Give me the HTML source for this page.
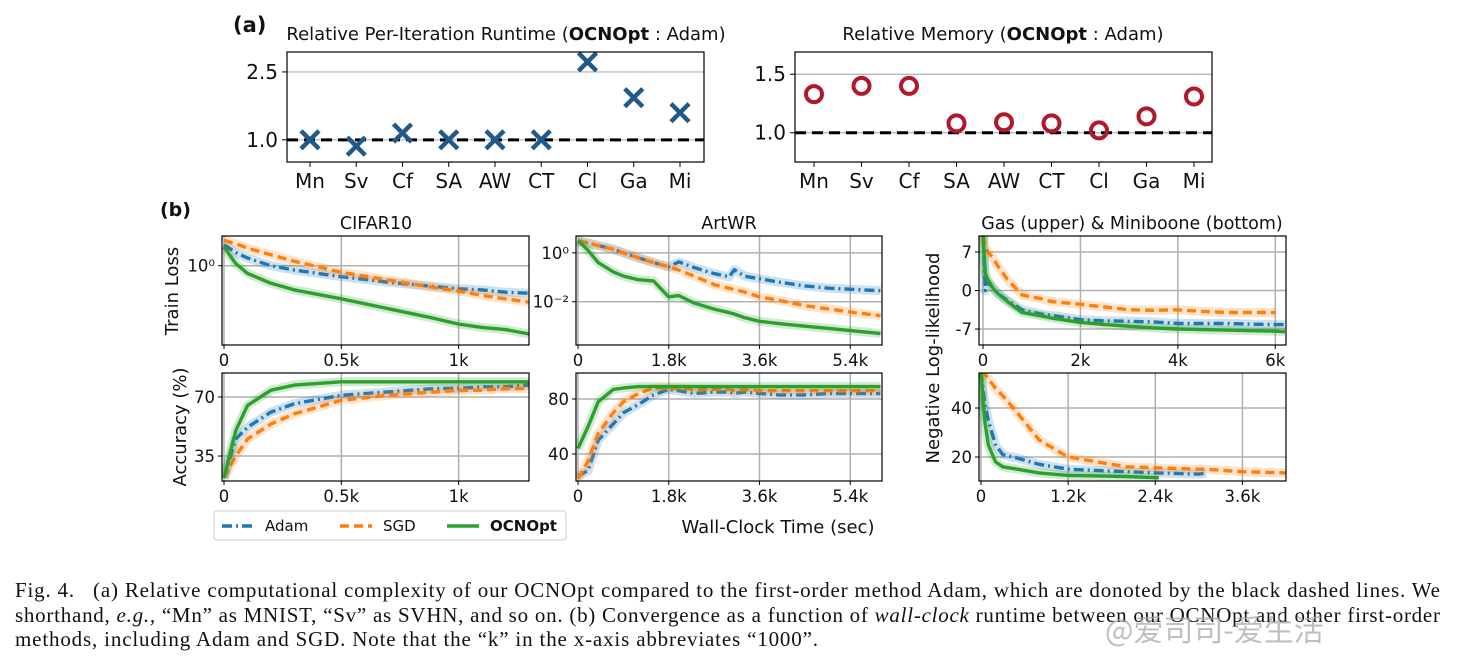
<!DOCTYPE html>
<html><head><meta charset="utf-8">
<style>
html,body{margin:0;padding:0;background:#fff;}
svg{display:block;}
text{font-family:"DejaVu Sans","Liberation Sans",sans-serif;fill:#111;}
.cap{font-family:"Liberation Serif","Noto Serif CJK SC",serif;font-size:21px;fill:#111;}
</style></head>
<body>
<svg id="fig" width="1457" height="663" viewBox="0 0 1457 663" xmlns="http://www.w3.org/2000/svg">
<g id="layer"></g>
<text class="cap" x="15" y="597" textLength="1425" lengthAdjust="spacing">Fig. 4. &#160;&#160;(a) Relative computational complexity of our OCNOpt compared to the first-order method Adam, which are donoted by the black dashed lines. We</text>
<text class="cap" x="15" y="622" textLength="1425" lengthAdjust="spacing">shorthand, <tspan font-style="italic">e.g.,</tspan> “Mn” as MNIST, “Sv” as SVHN, and so on. (b) Convergence as a function of <tspan font-style="italic">wall-clock</tspan> runtime between our OCNOpt and other first-order</text>
<text class="cap" x="15" y="646" textLength="803" lengthAdjust="spacing">methods, including Adam and SGD. Note that the “k” in the x-axis abbreviates “1000”.</text>
<text x="1105" y="641" style="font-family:'Noto Sans CJK SC',sans-serif;font-size:30px;fill:#aaa;opacity:0.75">@爱司司-爱生活</text>
</svg>
<script>
// ---------- Part (a) data ----------
const catLabels = ["Mn","Sv","Cf","SA","AW","CT","Cl","Ga","Mi"];
const runtimeVals = [1.0,0.86,1.15,1.0,1.0,1.0,2.72,1.93,1.6];
const memoryVals = [1.33,1.40,1.40,1.08,1.09,1.08,1.02,1.14,1.31];
const runtimeTicks = [1.0,2.5];
const memoryTicks = [1.0,1.5];

// ---------- Part (b) data ----------
const cifX = [0,0.05,0.1,0.2,0.3,0.5,0.7,0.9,1.0,1.1,1.2,1.3];
const cifAdamLoss = [0.19,0.12,0.07,0.0,-0.04,-0.1,-0.15,-0.19,-0.21,-0.22,-0.24,-0.25];
const cifSgdLoss = [0.23,0.2,0.16,0.1,0.04,-0.06,-0.13,-0.2,-0.23,-0.27,-0.3,-0.33];
const cifOcnLoss = [0.17,0.02,-0.07,-0.16,-0.22,-0.3,-0.39,-0.48,-0.53,-0.56,-0.58,-0.62];
const cifAdamAcc = [22,45,52,61,66,71,73,75,75,76,76,77];
const cifSgdAcc = [22,35,45,54,60,68,71,73,74,74,75,75];
const cifOcnAcc = [22,50,65,74,77,79,79,79,79,79,79,79];
const cifLossTicks = ["10⁰"];

const artX = [0,0.2,0.4,0.7,0.9,1.2,1.5,1.8,2.0,2.3,2.7,3.0,3.1,3.3,3.6,4.0,4.5,5.0,5.5,6.0];
const artAdamLoss = [0.5,0.4,0.3,0.15,0.0,-0.2,-0.4,-0.57,-0.37,-0.6,-0.85,-0.98,-0.69,-0.95,-1.06,-1.2,-1.35,-1.45,-1.5,-1.55];
const artSgdLoss = [0.5,0.4,0.3,0.15,0.0,-0.2,-0.4,-0.57,-0.7,-0.95,-1.3,-1.45,-1.5,-1.6,-1.8,-1.95,-2.16,-2.3,-2.45,-2.57];
const artOcnLoss = [0.5,0.1,-0.4,-0.78,-0.95,-1.1,-1.15,-1.8,-1.75,-2.05,-2.3,-2.45,-2.5,-2.65,-2.8,-2.9,-3.0,-3.1,-3.2,-3.3];
const artAdamAcc = [24,28,50,62,70,76,83,87,86,84,85,85,84,85,84,83,83,84,84,84];
const artSgdAcc = [22,35,55,70,78,84,88,88,88,87,87,87,86,87,86,86,86,86,86,86];
const artOcnAcc = [44,60,78,87,88,89,89,89,89,89,89,89,89,89,89,89,89,89,89,89];

const gasX = [0,0.05,0.1,0.2,0.3,0.5,0.8,1.2,1.4,2.0,2.5,3.0,3.5,4.0,4.5,5.0,5.5,6.0,6.2];
const gasAdamNll = [9.9,0,1.5,0.5,-0.5,-1.8,-3.5,-4.3,-4.5,-5.3,-5.5,-5.6,-5.7,-6.0,-6.0,-6.0,-6.1,-6.2,-6.2];
const gasSgdNll = [9.9,8,7,6,4.5,2,-0.8,-1.5,-2.0,-2.5,-3.0,-3.5,-3.6,-3.5,-3.8,-4.0,-4.0,-4.0,null];
const gasOcnNll = [9.9,3,2,0.5,-0.5,-2,-4,-4.6,-5,-5.8,-6.2,-6.5,-6.8,-7.0,-7.1,-7.2,-7.3,-7.4,-7.5];

const mbX = [0,0.05,0.1,0.2,0.3,0.5,0.8,1.2,1.6,2.0,2.45,3.0,3.1,3.6,4.2];
const mbAdamNll = [55,42,35,25,21,19.5,17,15,14.5,14,13.5,13,13.5,null,null];
const mbSgdNll = [55,54,52,48,45,38,27,20,18,16,15.5,15,15,14,13.5];
const mbOcnNll = [55,35,25,18,16,15,13.5,12.5,12.3,12,11.5,null,null,null,null];

const NS="http://www.w3.org/2000/svg";
const layer=document.getElementById('layer');
function mk(tag,attrs,parent){const e=document.createElementNS(NS,tag);for(const k in attrs)e.setAttribute(k,attrs[k]);(parent||layer).appendChild(e);return e;}
function txt(s,attrs,parent){const e=mk('text',attrs,parent);e.textContent=s;return e;}

const BLUE="#1f77b4",ORANGE="#ff7f0e",GREEN="#2ca02c";

// ---------- part (a) ----------
function catPanel(name,box,ymin,ymax,ticks,tickFmt,vals,kind,title,titleX){
  const g=mk('g',{});
  
  
  const sy=v=>box.y1-(v-ymin)/(ymax-ymin)*(box.y1-box.y0);
  const n=catLabels.length;
  const sx=i=>box.cx0+i*(box.cx1-box.cx0)/(n-1);
  ticks.forEach(t=>{
    const l=mk('line',{x1:box.x0,x2:box.x1,y1:sy(t),y2:sy(t),stroke:'#b0b0b0','stroke-width':1.2},g);
    
    
    mk('line',{x1:box.x0-5,x2:box.x0,y1:sy(t),y2:sy(t),stroke:'#000','stroke-width':1},g);
    const tl=txt(tickFmt(t),{x:box.x0-9,y:sy(t)+7,'text-anchor':'end','font-size':20},g);
    
    
  });
  const ref=mk('line',{x1:box.x0,x2:box.x1,y1:sy(1),y2:sy(1),stroke:'#000','stroke-width':3,'stroke-dasharray':'11,6'},g);
  
  
  catLabels.forEach((c,i)=>{
    mk('line',{x1:sx(i),x2:sx(i),y1:box.y1,y2:box.y1+5,stroke:'#000','stroke-width':1},g);
    const tl=txt(c,{x:sx(i),y:box.y1+26,'text-anchor':'middle','font-size':20},g);
    
    
    const x=sx(i),y=sy(vals[i]);
    if(kind==='x'){
      const p=mk('path',{d:`M${x-9},${y-9}L${x+9},${y+9}M${x-9},${y+9}L${x+9},${y-9}`,stroke:'#1f5a8a','stroke-width':4.5},g);
      
      
    }else{
      const p=mk('circle',{cx:x,cy:y,r:8,fill:'none',stroke:'#b2182b','stroke-width':4},g);
      
      
    }
  });
  mk('rect',{x:box.x0,y:box.y0,width:box.x1-box.x0,height:box.y1-box.y0,fill:'none',stroke:'#000','stroke-width':1.2},g);
  const t=mk('text',{x:titleX,y:40,'text-anchor':'middle','font-size':18},g);
  t.innerHTML=title;
  
  
}
catPanel('runtime-chart',{x0:287,x1:704,y0:52,y1:162,cx0:310,cx1:680},0.51,2.94,runtimeTicks,v=>v.toFixed(1),runtimeVals,'x','Relative Per-Iteration Runtime (<tspan font-weight="bold">OCNOpt</tspan> : Adam)',506);
catPanel('memory-chart',{x0:795,x1:1212,y0:52,y1:162,cx0:814,cx1:1194},0.75,1.69,memoryTicks,v=>v.toFixed(1),memoryVals,'o','Relative Memory (<tspan font-weight="bold">OCNOpt</tspan> : Adam)',1003);
const la=txt('(a)',{x:233,y:32,'font-size':21,'font-weight':'bold'});



// ---------- part (b) ----------
function linePanel(name,box,xmax,ymin,ymax,xticks,xtickLabels,yticks,ytickLabels,series,xs){
  const g=mk('g',{});
  
  
  const sx=v=>box.xz+v*(box.x1-box.xz)/xmax;
  const sy=v=>box.y1-(v-ymin)/(ymax-ymin)*(box.y1-box.y0);
  const clip='clip-'+name;
  const cp=mk('clipPath',{id:clip},g);
  mk('rect',{x:box.x0,y:box.y0,width:box.x1-box.x0,height:box.y1-box.y0},cp);
  xticks.forEach((t,i)=>{
    mk('line',{x1:sx(t),x2:sx(t),y1:box.y0,y2:box.y1,stroke:'#b0b0b0','stroke-width':1.5},g);
    mk('line',{x1:sx(t),x2:sx(t),y1:box.y1,y2:box.y1+4,stroke:'#000','stroke-width':1},g);
    const tl=txt(xtickLabels[i],{x:sx(t),y:box.y1+21,'text-anchor':'middle','font-size':16.5},g);
    
    
  });
  yticks.forEach((t,i)=>{
    mk('line',{x1:box.x0,x2:box.x1,y1:sy(t),y2:sy(t),stroke:'#b0b0b0','stroke-width':1.5},g);
    mk('line',{x1:box.x0-4,x2:box.x0,y1:sy(t),y2:sy(t),stroke:'#000','stroke-width':1},g);
    const tl=txt(ytickLabels[i],{x:box.x0-7,y:sy(t)+6,'text-anchor':'end','font-size':16.5},g);
    
    
  });
  const sg=mk('g',{'clip-path':`url(#${clip})`},g);
  series.forEach(s=>{
    let d='';let started=false;
    s.vals.forEach((v,i)=>{if(v===null)return;d+=(started?'L':'M')+sx(xs[i]).toFixed(1)+','+sy(v).toFixed(1);started=true;});
    mk('path',{d:d,fill:'none',stroke:s.color,'stroke-width':9,opacity:0.22,'stroke-linejoin':'round'},sg);
    const p=mk('path',{d:d,fill:'none',stroke:s.color,'stroke-width':3.4,'stroke-dasharray':s.dash,'stroke-linejoin':'round'},sg);
    
    
  });
  mk('rect',{x:box.x0,y:box.y0,width:box.x1-box.x0,height:box.y1-box.y0,fill:'none',stroke:'#000','stroke-width':1.2},g);
  return {sx,sy};
}
const AD='10,4,2,4',SD='9,5',OD='none';
const topB={y0:236,y1:345},botB={y0:373,y1:481};
function S(name,vals,color,dash){return {name,vals,color,dash};}

linePanel('cifar10-loss-chart',{x0:222,x1:529,xz:224,...topB},1.3,-0.72,0.27,[0,0.5,1],['0','0.5k','1k'],[0],cifLossTicks,
 [S('adam-line',cifAdamLoss,BLUE,AD),S('sgd-line',cifSgdLoss,ORANGE,SD),S('ocnopt-line',cifOcnLoss,GREEN,OD)],cifX);
linePanel('cifar10-accuracy-chart',{x0:222,x1:529,xz:224,...botB},1.3,20.2,84.2,[0,0.5,1],['0','0.5k','1k'],[35,70],['35','70'],
 [S('adam-line',cifAdamAcc,BLUE,AD),S('sgd-line',cifSgdAcc,ORANGE,SD),S('ocnopt-line',cifOcnAcc,GREEN,OD)],cifX);
linePanel('artwr-loss-chart',{x0:576,x1:882,xz:578,...topB},6.03,-3.77,0.69,[0,1.8,3.6,5.4],['0','1.8k','3.6k','5.4k'],[0,-2],['10⁰','10⁻²'],
 [S('adam-line',artAdamLoss,BLUE,AD),S('sgd-line',artSgdLoss,ORANGE,SD),S('ocnopt-line',artOcnLoss,GREEN,OD)],artX);
linePanel('artwr-accuracy-chart',{x0:576,x1:882,xz:578,...botB},6.03,20.4,98.9,[0,1.8,3.6,5.4],['0','1.8k','3.6k','5.4k'],[40,80],['40','80'],
 [S('adam-line',artAdamAcc,BLUE,AD),S('sgd-line',artSgdAcc,ORANGE,SD),S('ocnopt-line',artOcnAcc,GREEN,OD)],artX);
linePanel('gas-nll-chart',{x0:979,x1:1286,xz:983,...topB},6.22,-9.9,9.9,[0,2,4,6],['0','2k','4k','6k'],[-7,0,7],['-7','0','7'],
 [S('adam-line',gasAdamNll,BLUE,AD),S('sgd-line',gasSgdNll,ORANGE,SD),S('ocnopt-line',gasOcnNll,GREEN,OD)],gasX);
linePanel('miniboone-nll-chart',{x0:979,x1:1286,xz:981,...botB},4.2,10.2,54.3,[0,1.2,2.4,3.6],['0','1.2k','2.4k','3.6k'],[20,40],['20','40'],
 [S('adam-line',mbAdamNll,BLUE,AD),S('sgd-line',mbSgdNll,ORANGE,SD),S('ocnopt-line',mbOcnNll,GREEN,OD)],mbX);

function label(s,attrs,name){const t=txt(s,attrs);return t;}
label('(b)',{x:160,y:216,'font-size':19,'font-weight':'bold'},'part-b-label');
label('CIFAR10',{x:376,y:229,'text-anchor':'middle','font-size':17.5},'cifar10-title');
label('ArtWR',{x:729,y:229,'text-anchor':'middle','font-size':17.5},'artwr-title');
label('Gas (upper) & Miniboone (bottom)',{x:1132,y:229,'text-anchor':'middle','font-size':17.5},'gas-miniboone-title');
label('Train Loss',{x:0,y:0,'text-anchor':'middle','font-size':18,transform:'translate(178,291) rotate(-90)'},'train-loss-axis-title');
label('Accuracy (%)',{x:0,y:0,'text-anchor':'middle','font-size':18,transform:'translate(186,427) rotate(-90)'},'accuracy-axis-title');
label('Negative Log-likelihood',{x:0,y:0,'text-anchor':'middle','font-size':18,transform:'translate(939,358) rotate(-90)'},'nll-axis-title');
label('Wall-Clock Time (sec)',{x:778,y:533,'text-anchor':'middle','font-size':18},'x-axis-title');

// legend
const lg=mk('g',{});


mk('rect',{x:214,y:511,width:352,height:29,rx:3,fill:'#fff',stroke:'#ccc','stroke-width':1},lg);
[[BLUE,AD,'Adam',222,'normal'],[ORANGE,SD,'SGD',340,'normal'],[GREEN,OD,'OCNOpt',447,'bold']].forEach(e=>{
  const it=mk('g',{},lg);
  
  
  mk('line',{x1:e[3],x2:e[3]+32,y1:526,y2:526,stroke:e[0],'stroke-width':3.4,'stroke-dasharray':e[1]},it);
  txt(e[2],{x:e[3]+43,y:531,'font-size':15,'font-weight':e[4]},it);
});
</script>
</body></html>
